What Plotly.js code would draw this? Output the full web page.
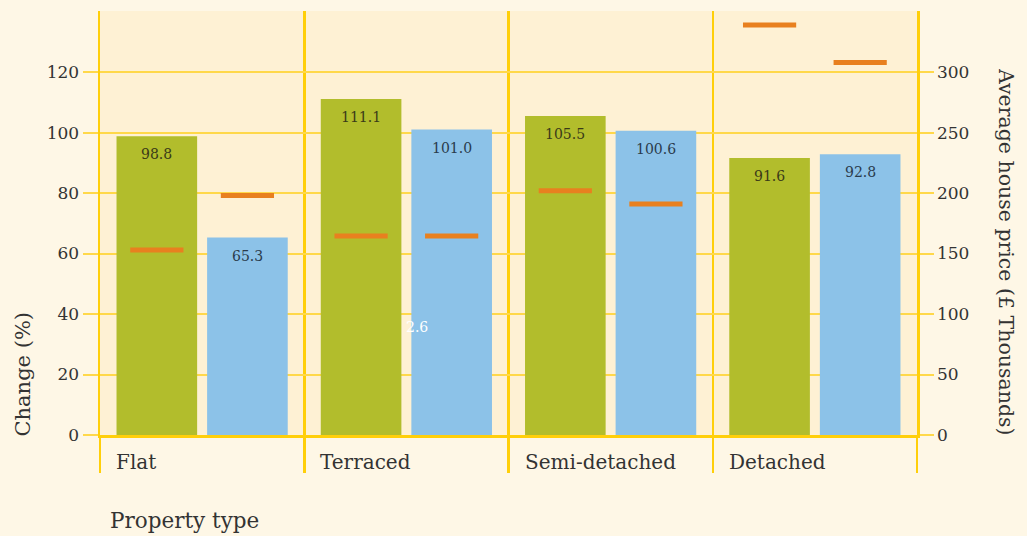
<!DOCTYPE html>
<html>
<head>
<meta charset="utf-8">
<script src="https://cdn.plot.ly/plotly-3.0.1.min.js"></script>
<style>
  html, body { margin: 0; padding: 0; background: #fef7e6; }
  #chart { width: 1027px; height: 536px; }
</style>
</head>
<body>
<div id="chart"></div>
<script>
// Property types along the x axis
const propertyTypes = ['Flat', 'Terraced', 'Semi-detached', 'Detached'];

// Percentage change (left axis)
const changeGreen = [98.8, 111.1, 105.5, 91.6];
const changeBlue = [65.3, 101.0, 100.6, 92.8];

// Average house price in £ thousands (right axis)
const priceGreen = [153, 164.5, 202, 339];
const priceBlue = [198, 164.5, 191, 308];

// Axis ticks
const changeTicks = [0, 20, 40, 60, 80, 100, 120];
const priceTicks = [0, 50, 100, 150, 200, 250, 300];

const FONT = 'DejaVu Serif, serif';
const TEXT = '#333333';
const GRID = '#ffd84a';
const FRAME = '#ffcf0a';
const GREEN = '#b2bd2c';
const BLUE = '#8cc2e8';
const ORANGE = '#e8801f';
const GAP = 0.113;
// distance (in category units) from a category centre to the centre of each bar
const HALF_SLOT = (1 - GAP) / 4;

const fmt = v => v.toFixed(1);

const dash = { symbol: 'line-ew', size: 38, line: { width: 5, color: ORANGE } };

const traces = [
  { type: 'bar', x: propertyTypes, y: changeGreen, marker: { color: GREEN }, hoverinfo: 'skip' },
  { type: 'bar', x: propertyTypes, y: changeBlue, marker: { color: BLUE }, hoverinfo: 'skip' },
  { type: 'scatter', mode: 'markers', x: propertyTypes, y: priceGreen, yaxis: 'y2', marker: dash, hoverinfo: 'skip' },
  { type: 'scatter', mode: 'markers', x: propertyTypes, y: priceBlue, yaxis: 'y2', marker: dash, hoverinfo: 'skip' }
];

// Value labels just inside the top of each bar
function valueLabels(values, side, color) {
  return values.map((v, i) => ({
    x: i + side * HALF_SLOT, xref: 'x', y: v, yref: 'y', yshift: -18,
    xanchor: 'center', yanchor: 'middle', showarrow: false,
    text: fmt(v), font: { family: FONT, size: 14, color: color }
  }));
}

// Category names sit under the left edge of each group
const categoryLabels = propertyTypes.map(name => ({
  x: name, xref: 'x', y: 0, yref: 'y', yshift: -27,
  xanchor: 'left', yanchor: 'middle', xshift: -88,
  text: name, showarrow: false,
  font: { family: FONT, size: 20, color: TEXT }
}));

const layout = {
  width: 1027, height: 536,
  margin: { l: 100, r: 110, t: 11, b: 101 },
  paper_bgcolor: '#fef7e6',
  plot_bgcolor: '#fef1d4',
  showlegend: false,
  barmode: 'group', bargap: GAP, bargroupgap: 0.11,
  scattermode: 'group', scattergap: GAP,
  font: { family: FONT, color: TEXT },
  xaxis: {
    type: 'category', tickson: 'boundaries',
    showgrid: true, gridcolor: FRAME, gridwidth: 2.5,
    ticks: 'outside', ticklen: 35, tickwidth: 2.5, tickcolor: FRAME,
    showticklabels: false, zeroline: false,
    showline: true, linecolor: FRAME, linewidth: 3,
    fixedrange: true
  },
  yaxis: {
    range: [0, 140.2], tickvals: changeTicks,
    ticks: 'outside', ticklen: 15, tickwidth: 2, tickcolor: GRID,
    showgrid: true, gridcolor: GRID, gridwidth: 2,
    zeroline: false, showline: true, linecolor: FRAME, linewidth: 2.5,
    tickfont: { family: FONT, size: 17, color: TEXT },
    fixedrange: true
  },
  yaxis2: {
    overlaying: 'y', side: 'right',
    range: [0, 350.5], tickvals: priceTicks,
    ticks: 'outside', ticklen: 14, tickwidth: 2, tickcolor: GRID,
    showgrid: false, zeroline: false,
    showline: true, linecolor: FRAME, linewidth: 2.5,
    tickfont: { family: FONT, size: 17, color: TEXT },
    fixedrange: true
  },
  annotations: categoryLabels
    .concat(valueLabels(changeGreen, -1, '#3a3a18'))
    .concat(valueLabels(changeBlue, 1, '#2a3b4c'))
    .concat([
      {
        text: 'Change (%)', textangle: -90, showarrow: false,
        xref: 'paper', x: 0, xshift: -78, xanchor: 'center',
        yref: 'paper', y: 0, yshift: -4, yanchor: 'bottom',
        font: { family: FONT, size: 21, color: TEXT }
      },
      {
        text: 'Average house price (£ Thousands)', textangle: 90, showarrow: false,
        xref: 'paper', x: 1, xshift: 89, xanchor: 'center',
        yref: 'paper', y: 0, yshift: -3, yanchor: 'bottom',
        font: { family: FONT, size: 20.5, color: TEXT }
      },
      {
        text: 'Property type', showarrow: false,
        xref: 'paper', x: 0, xshift: 8, xanchor: 'left',
        yref: 'paper', y: 0, yshift: -85, yanchor: 'middle',
        font: { family: FONT, size: 21.5, color: TEXT }
      },
      {
        text: '2.6', showarrow: false,
        xref: 'x', x: 'Terraced', xshift: -2, xanchor: 'left',
        yref: 'y', y: 35.7, yanchor: 'middle',
        font: { family: FONT, size: 14, color: '#ffffff' }
      }
    ])
};

Plotly.newPlot('chart', traces, layout, { displayModeBar: false, staticPlot: true });
</script>
</body>
</html>
